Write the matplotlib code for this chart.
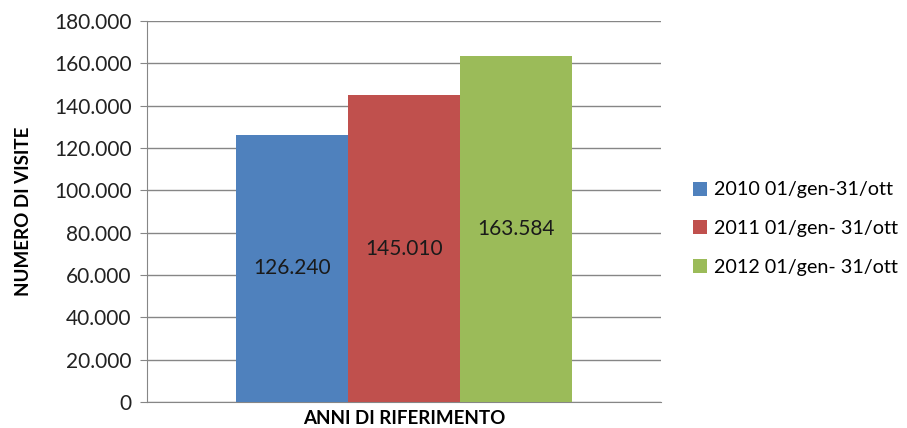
import matplotlib
matplotlib.use("Agg")
import matplotlib.pyplot as plt
from matplotlib.ticker import FuncFormatter

series = ["2010 01/gen-31/ott", "2011 01/gen- 31/ott", "2012 01/gen- 31/ott"]
values = [126240, 145010, 163584]
colors = ["#4F81BD", "#C0504D", "#9BBB59"]
yticks = list(range(0, 180001, 20000))

plt.rcParams['font.family'] = ['Lato', 'DejaVu Sans']

def fmt(v, pos=None):
    return f"{int(v):,}".replace(",", ".")

fig = plt.figure(figsize=(9.07, 4.28), dpi=100)
ax = fig.add_axes([147/907, 1-402/428, 514/907, 381/428])

w = 112/514
positions = [-w, 0, w]
for p, v, c, s in zip(positions, values, colors, series):
    ax.bar(p, v, width=w, color=c, label=s, zorder=3)
    ax.text(p, v/2, fmt(v), ha='center', va='center', fontsize=15, color='#1a1a1a', zorder=4)

ax.set_xlim(-0.5, 0.5)
ax.set_ylim(0, 180000)
ax.set_yticks(yticks)
ax.yaxis.set_major_formatter(FuncFormatter(fmt))
ax.set_xticks([])
ax.grid(axis='y', color='#868686', linewidth=1, zorder=0)
for s in ['top', 'right']:
    ax.spines[s].set_visible(False)
for s in ['left', 'bottom']:
    ax.spines[s].set_color('#868686')
ax.tick_params(axis='y', length=5, color='#868686', labelsize=15, labelcolor='#222222', pad=6)
ax.set_ylabel("NUMERO DI VISITE", fontsize=13.5, fontweight='bold')
ax.yaxis.set_label_coords(-0.223, 0.5)
ax.set_xlabel("ANNI DI RIFERIMENTO", fontsize=13.5, fontweight='bold')
ax.xaxis.set_label_coords(0.5, -0.022)

leg = ax.legend(loc='center left', bbox_to_anchor=(1.046, 0.455), frameon=False,
                fontsize=14.2, handlelength=0.72, handleheight=0.72, handletextpad=0.35,
                labelspacing=1.1, borderaxespad=0)

fig.savefig("out.png", dpi=100)
